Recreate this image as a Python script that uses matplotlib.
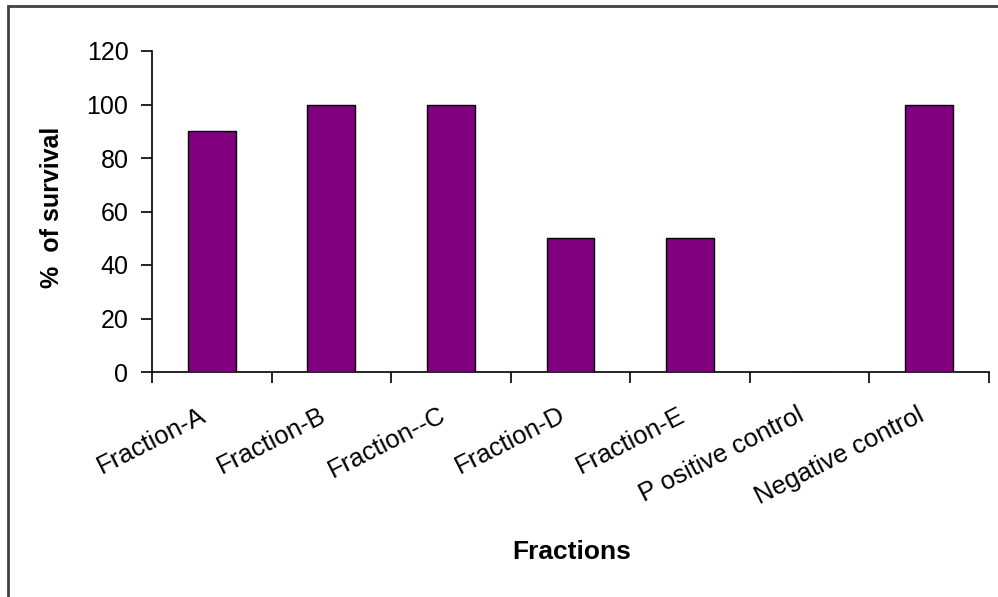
import matplotlib.pyplot as plt
import numpy as np
from matplotlib.patches import Rectangle

PURPLE = "#800080"

categories = [
    "Fraction-A",
    "Fraction-B",
    "Fraction--C",
    "Fraction-D",
    "Fraction-E",
    "P ositive control",
    "Negative control",
]
survival = [90, 100, 100, 50, 50, 0, 100]
y_ticks = [0, 20, 40, 60, 80, 100, 120]

plt.rcParams["font.family"] = ["Liberation Sans", "DejaVu Sans"]

W, H = 998, 597
fig = plt.figure(figsize=(W / 100, H / 100), dpi=100)

# outer chart frame, running off the right and bottom edges
fig.patches.append(
    Rectangle((7.5 / W, -0.1), 1.2, 1 - 5.5 / H + 0.1, transform=fig.transFigure,
              fill=False, edgecolor="#404040", linewidth=2.0)
)

ax = fig.add_axes([152 / W, 1 - 372 / H, (989 - 152) / W, (372 - 51) / H])

x = np.arange(len(categories))
ax.bar(x, survival, width=0.4, color=PURPLE, edgecolor="black", linewidth=1.0, zorder=3)

ax.set_xlim(-0.5, len(categories) - 0.5)
ax.set_ylim(0, 120)
ax.set_yticks(y_ticks)
ax.set_yticklabels([str(v) for v in y_ticks], fontsize=18)

# tick marks sit on the category boundaries, labels at the centres
ax.set_xticks(np.arange(-0.5, len(categories)))
ax.set_xticklabels([])
ax.tick_params(axis="x", length=8, width=1.2, direction="out")
ax.tick_params(axis="y", length=8, width=1.2, direction="out", pad=9)

for xi, lab in zip(x, categories):
    ax.annotate(lab, (xi, 0), xycoords=("data", "axes fraction"),
                xytext=(-5, -30), textcoords="offset points",
                rotation=27, ha="right", va="center", rotation_mode="anchor",
                fontsize=18.5)

ax.spines["top"].set_visible(False)
ax.spines["right"].set_visible(False)
ax.spines["left"].set_linewidth(1.2)
ax.spines["bottom"].set_linewidth(1.2)

fig.text(572 / W, 1 - 552 / H, "Fractions", ha="center", va="center",
         fontsize=19, fontweight="bold")
fig.text(52 / W, 1 - 207 / H, "%  of survival", ha="center", va="center",
         rotation=90, fontsize=18, fontweight="bold")

fig.savefig("out.png", dpi=100)
